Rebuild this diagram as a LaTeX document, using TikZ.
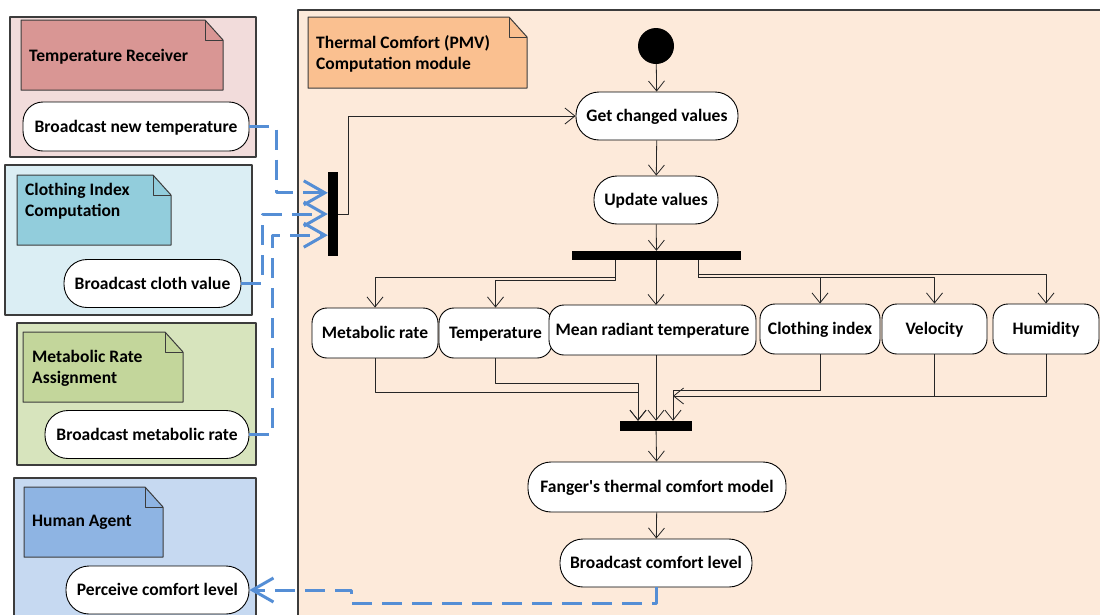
\documentclass[tikz,border=0pt]{standalone}
\usepackage{fontspec}
\setmainfont{Carlito}
\usetikzlibrary{arrows.meta, calc}
\definecolor{trback}{HTML}{F2DCDB}
\definecolor{trnote}{HTML}{D99694}
\definecolor{ciback}{HTML}{DBEEF4}
\definecolor{cinote}{HTML}{92CDDC}
\definecolor{mrback}{HTML}{D7E4BD}
\definecolor{mrnote}{HTML}{C3D69B}
\definecolor{haback}{HTML}{C6D9F1}
\definecolor{hanote}{HTML}{8EB4E3}
\definecolor{pmvback}{HTML}{FDEADA}
\definecolor{pmvnote}{HTML}{FAC090}
\definecolor{sigc}{HTML}{558ED5}
\definecolor{framec}{RGB}{60,60,60}

% note with a folded corner: x1, y1, x2, y2, fill
\newcommand{\dognote}[5]{%
  \draw[framec, line width=1pt, fill=#5]
    (#1,#2) -- (#3-18,#2) -- (#3,#2+20) -- (#3,#4) -- (#1,#4) -- cycle;
  \draw[framec, line width=1pt] (#3-18,#2) -- (#3-18,#2+20) -- (#3,#2+20);
}

\tikzset{
  act/.style={draw, line width=0.9pt, fill=white, rounded corners=15pt,
              minimum height=50pt, inner sep=0pt, text height=11.5pt, text depth=0pt},
  pill/.style={act, rounded corners=23pt, minimum height=48pt},
  bar/.style={fill=black, draw=none, inner sep=0pt},
  flow/.style={->, line width=0.8pt, black!85},
  sig/.style={->, sigc, line width=3pt, dash pattern=on 20pt off 10pt},
  lane/.style={framec, line width=1.4pt},
  label/.style={anchor=west, align=left, inner sep=0pt},
}

\begin{document}
\begin{tikzpicture}[x=1pt, y=-1pt, line join=round,
    >={Straight Barb[length=10pt, width=16pt]},
    font=\bfseries\fontsize{17.5}{21}\selectfont]
  \useasboundingbox (0,0) rectangle (1100,614);
  \clip (0,0) rectangle (1100,614);

  % swimlanes
  \filldraw[lane, fill=trback] (10,17) rectangle (256,157);
  \filldraw[lane, fill=ciback] (5,165) rectangle (252,315);
  \filldraw[lane, fill=mrback] (17,323) rectangle (256,465);
  \filldraw[lane, fill=haback] (14,478) rectangle (256,630);
  \filldraw[lane, fill=pmvback] (298,10) rectangle (1110,630);

  % lane notes
  \dognote{21}{20}{223}{90}{trnote}
  \node[label] (trtxt) at (29,57) {Temperature Receiver};
  \dognote{17}{175}{171}{245}{cinote}
  \node[label] (citxt) at (25,201) {Clothing Index\\Computation};
  \dognote{23}{332}{183}{402}{mrnote}
  \node[label] (mrtxt) at (32,368) {Metabolic Rate\\Assignment};
  \dognote{24}{487}{163}{557}{hanote}
  \node[label] (hatxt) at (32,522) {Human Agent};
  \dognote{308}{17}{527}{88}{pmvnote}
  \node[label] (pmvtxt) at (316,54) {Thermal Comfort (PMV)\\Computation module};

  % actions in the side lanes
  \node[act, rounded corners=20pt, minimum width=226pt, minimum height=49pt] (bnt) at (136,126.5) {Broadcast new temperature};
  \node[pill, minimum width=177pt] (bcv) at (152.5,283.5) {Broadcast cloth value};
  \node[pill, minimum width=204pt] (bmr) at (147,434.5) {Broadcast metabolic rate};
  \node[pill, minimum width=183pt] (pcl) at (157.5,590) {Perceive comfort level};

  % PMV module
  \node[circle, fill=black, minimum size=36pt, inner sep=0pt] (start) at (656,46) {};
  \node[bar, minimum width=10pt, minimum height=84pt] (jin) at (333,214) {};
  \node[pill, minimum width=162pt] (get) at (657,116) {Get changed values};
  \node[pill, minimum width=124pt] (upd) at (656,200) {Update values};
  \node[bar, minimum width=169pt, minimum height=9pt] (fork) at (656.5,255.5) {};

  \node[act, minimum width=126pt] (met) at (375,333) {Metabolic rate};
  \node[act, minimum width=113pt] (tmp) at (495.5,333) {Temperature};
  \node[act, minimum width=207pt] (mrt) at (652.5,330) {Mean radiant temperature};
  \node[act, minimum width=120pt] (clo) at (820,329) {Clothing index};
  \node[act, minimum width=105pt] (vel) at (934.5,329) {Velocity};
  \node[act, minimum width=106pt] (hum) at (1046,329) {Humidity};

  \node[bar, minimum width=72pt, minimum height=10pt] (join) at (656,426) {};
  \node[pill, minimum width=258pt, minimum height=50pt] (fan) at (657,487) {Fanger\textquotesingle s thermal comfort model};
  \node[pill, minimum width=192pt] (bcl) at (656,563) {Broadcast comfort level};

  % bend points
  \coordinate (fl) at (615,277);
  \coordinate (fl2) at (615,280);
  \coordinate (fr) at (698,277);
  \coordinate (fr2) at (698,274);
  \coordinate (jl) at (638,392);
  \coordinate (jl2) at (638,383);
  \coordinate (jr) at (673,390);
  \coordinate (jr2) at (673,396);
  \coordinate (back) at (351,603);

  % control flow
  \draw[flow] (start) -- (get);
  \draw[flow] (jin.east) -- ++(10,0) |- (get.west);
  \draw[flow] (get) -- (upd);
  \draw[flow] (upd) -- (fork);
  \draw[flow] (fork.south -| fl) -- (fl) -| (met.north);
  \draw[flow] (fork.south -| fl2) -- (fl2) -| (tmp.north);
  \draw[flow] (fork.south -| mrt.north -| 656,0) -- (656,305);
  \draw[flow] (fork.south -| fr) -- (fr) -| (clo.north);
  \draw[flow] (fr) -| (vel.north);
  \draw[flow] (fork.south -| fr2) -- (fr2) -| (hum.north);
  \draw[flow] (met.south) |- (jl) -- (join.north -| jl);
  \draw[flow] (tmp.south) |- (jl2) -- (join.north -| jl2);
  \draw[flow] (656,355) -- (join.north);
  \draw[flow] (clo.south) |- (jr) -- (join.north -| jr);
  \draw[flow] (vel.south) |- (jr2);
  \draw[flow, -] (hum.south) |- (jr2) -- (jr);
  \draw[flow] (join) -- (fan);
  \draw[flow] (fan) -- (bcl);

  % signals between lanes
  \begin{scope}[>={Straight Barb[length=21pt, width=24pt]}]
    \draw[sig] (bnt.east) -- ++(27,0) |- ($(jin.north west)+(0,21)$);
    \draw[sig] (bcv.east) -- ++(21,0) |- (jin.west);
    \draw[sig] (bmr.east) -- ++(23,0) |- ($(jin.south west)+(0,-21)$);
    \draw[sig] (bcl.south) |- (back) |- (pcl.east);
  \end{scope}
\end{tikzpicture}
\end{document}
